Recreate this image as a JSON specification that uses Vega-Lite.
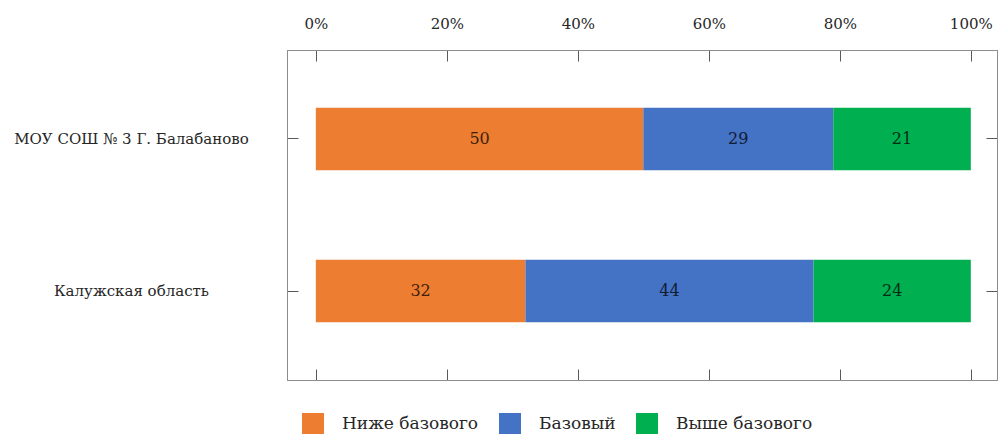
{
  "$schema": "https://vega.github.io/schema/vega-lite/v6.json",
  "width": 710,
  "height": 330,
  "autosize": {"type": "none"},
  "padding": {"left": 287, "top": 50, "right": 2, "bottom": 54},
  "background": "white",
  "config": {
    "font": "DejaVu Serif",
    "view": {"stroke": "#8c8c8c", "strokeWidth": 1},
    "axis": {
      "domainColor": "#8c8c8c",
      "tickColor": "#595959",
      "labelColor": "#262626",
      "labelFont": "DejaVu Serif",
      "labelFontSize": 15,
      "labelLimit": 400,
      "grid": false,
      "title": null
    },
    "legend": {"labelFont": "DejaVu Serif"},
    "text": {"font": "DejaVu Serif"}
  },
  "data": {
    "values": [
      {"group": "МОУ СОШ № 3 Г. Балабаново", "level": "Ниже базового", "ord": 1, "value": 50},
      {"group": "МОУ СОШ № 3 Г. Балабаново", "level": "Базовый", "ord": 2, "value": 29},
      {"group": "МОУ СОШ № 3 Г. Балабаново", "level": "Выше базового", "ord": 3, "value": 21},
      {"group": "Калужская область", "level": "Ниже базового", "ord": 1, "value": 32},
      {"group": "Калужская область", "level": "Базовый", "ord": 2, "value": 44},
      {"group": "Калужская область", "level": "Выше базового", "ord": 3, "value": 24}
    ]
  },
  "resolve": {"axis": {"x": "independent", "y": "independent"}},
  "layer": [
    {
      "mark": {"type": "bar"},
      "encoding": {
        "y": {
          "field": "group", "type": "nominal", "sort": null,
          "scale": {"paddingInner": 0.59, "paddingOuter": 0.38},
          "axis": {"orient": "left", "tickSize": -11, "labelPadding": 167, "labelAlign": "center", "labelLimit": 400, "title": null}
        },
        "x": {
          "field": "value", "type": "quantitative", "stack": "zero",
          "scale": {"domain": [-4.4, 104], "nice": false, "zero": false},
          "axis": {"orient": "top", "values": [0, 20, 40, 60, 80, 100], "labelExpr": "datum.value + '%'", "tickSize": -11, "labelPadding": 30, "title": null}
        },
        "order": {"field": "ord"},
        "color": {
          "field": "level", "type": "nominal",
          "sort": ["Ниже базового", "Базовый", "Выше базового"],
          "scale": {"domain": ["Ниже базового", "Базовый", "Выше базового"], "range": ["#ED7D31", "#4472C4", "#00B050"]},
          "legend": {
            "title": null, "orient": "none", "direction": "horizontal",
            "legendX": 15, "legendY": 363,
            "symbolType": "square", "symbolSize": 484, "symbolStrokeWidth": 0, "symbolOpacity": 1,
            "labelFontSize": 17, "labelColor": "#262626",
            "labelOffset": 18, "columnPadding": 20
          }
        }
      }
    },
    {
      "transform": [
        {"stack": "value", "groupby": ["group"], "sort": [{"field": "ord"}], "as": ["v0", "v1"]},
        {"fold": ["v0", "v1"], "as": ["k", "pos"]}
      ],
      "mark": {"type": "text", "fontSize": 16, "color": "black", "opacity": 0.75, "baseline": "middle"},
      "encoding": {
        "y": {
          "field": "group", "type": "nominal", "sort": null,
          "axis": {"orient": "right", "tickSize": -11, "labels": false, "title": null}
        },
        "x": {
          "field": "pos", "type": "quantitative", "aggregate": "mean",
          "axis": {"orient": "bottom", "values": [0, 20, 40, 60, 80, 100], "tickSize": -11, "labels": false, "title": null}
        },
        "detail": {"field": "level"},
        "text": {"field": "value", "type": "quantitative"}
      }
    }
  ]
}
